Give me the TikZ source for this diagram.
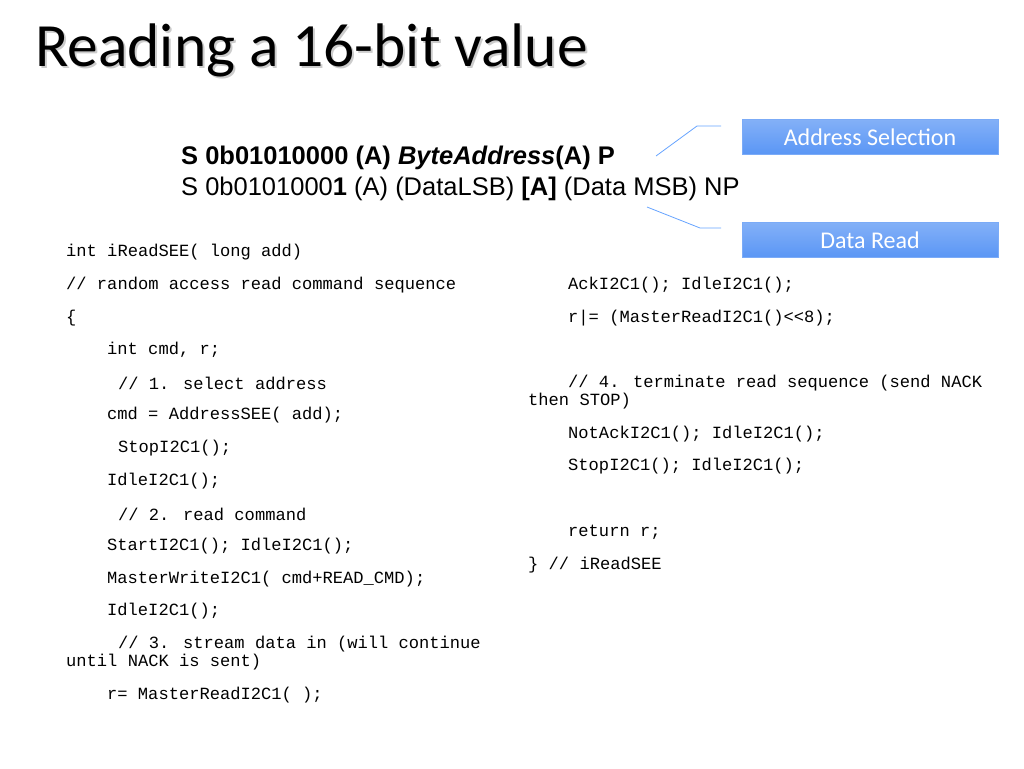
\documentclass[tikz,border=0pt]{standalone}
\usepackage{fontspec}
\setmainfont{Liberation Sans}
\newfontfamily\titlefont{Carlito}
\newfontfamily\codefont{Liberation Mono}
\definecolor{tagc}{RGB}{90,150,245}
\begin{document}
\begin{tikzpicture}[x=1pt,y=-1pt,
  code/.style={anchor=west,inner sep=0pt,font=\codefont\fontsize{17.1}{18}\selectfont},
  tag/.style={top color=tagc!75,bottom color=tagc,draw=tagc!80,text=white,minimum width=256pt,minimum height=35pt,font=\titlefont\fontsize{24}{26}\selectfont,inner sep=0pt},
  lead/.style={draw=blue!60!cyan!60,line width=0.8pt}]
\useasboundingbox (0,0) rectangle (1024,768);
\node[anchor=west,inner sep=0pt,text=gray!40,font=\titlefont\fontsize{61.5}{66}\selectfont] at (37,52) {Reading a 16-bit value};
\node (title)[anchor=west,inner sep=0pt,font=\titlefont\fontsize{61.5}{66}\selectfont] at (35,50) {Reading a 16-bit value};
\node (h1)[anchor=west,inner sep=0pt,font=\fontsize{25.5}{28}\selectfont] at (181,158) {\textbf{S 0b01010000 (A) \textit{ByteAddress}(A) P}};
\node (h2)[anchor=west,inner sep=0pt,font=\fontsize{25.5}{28}\selectfont] at (181,189) {S 0b0101000\textbf{1} (A) (DataLSB) \textbf{[A]} (Data MSB) NP};
\node (ta)[tag] at (870,137) {Address Selection};
\node (td)[tag] at (870,240) {Data Read};
\coordinate (a1) at (656,156); \coordinate (a2) at (697,126);
\coordinate (d1) at (647,207); \coordinate (d2) at (700,228);
\draw[lead] (a1) -- (a2) -- ++(24,0);
\draw[lead] (d1) -- (d2) -- ++(21,0);
\node (l1)[code] at (66,252) {int iReadSEE( long add)};
\node (l2)[code] at (66,285) {// random access read command sequence};
\node (l3)[code] at (66,318) {\{};
\node (l4)[code] at (107,350) {int cmd, r;};
\node (l5)[code] at (118,383) {// 1. select address};
\node (l6)[code] at (107,415) {cmd = AddressSEE( add);};
\node (l7)[code] at (118,448) {StopI2C1();};
\node (l8)[code] at (107,481) {IdleI2C1();};
\node (l9)[code] at (118,514) {// 2. read command};
\node (l10)[code] at (107,546) {StartI2C1(); IdleI2C1();};
\node (l11)[code] at (107,579) {MasterWriteI2C1( cmd+READ\_CMD);};
\node (l12)[code] at (107,611) {IdleI2C1();};
\node (l13)[code] at (118,644) {// 3. stream data in (will continue};
\node (l14)[code] at (66,662) {until NACK is sent)};
\node (l15)[code] at (107,695) {r= MasterReadI2C1( );};
\node (r1)[code] at (568,285) {AckI2C1(); IdleI2C1();};
\node (r2)[code] at (568,318) {r|= (MasterReadI2C1()<<8);};
\node (r3)[code] at (568,383) {// 4. terminate read sequence (send NACK};
\node (r4)[code] at (528,401) {then STOP)};
\node (r5)[code] at (568,434) {NotAckI2C1(); IdleI2C1();};
\node (r6)[code] at (568,466) {StopI2C1(); IdleI2C1();};
\node (r7)[code] at (568,532) {return r;};
\node (r8)[code] at (528,565) {\} // iReadSEE};
\end{tikzpicture}
\end{document}
